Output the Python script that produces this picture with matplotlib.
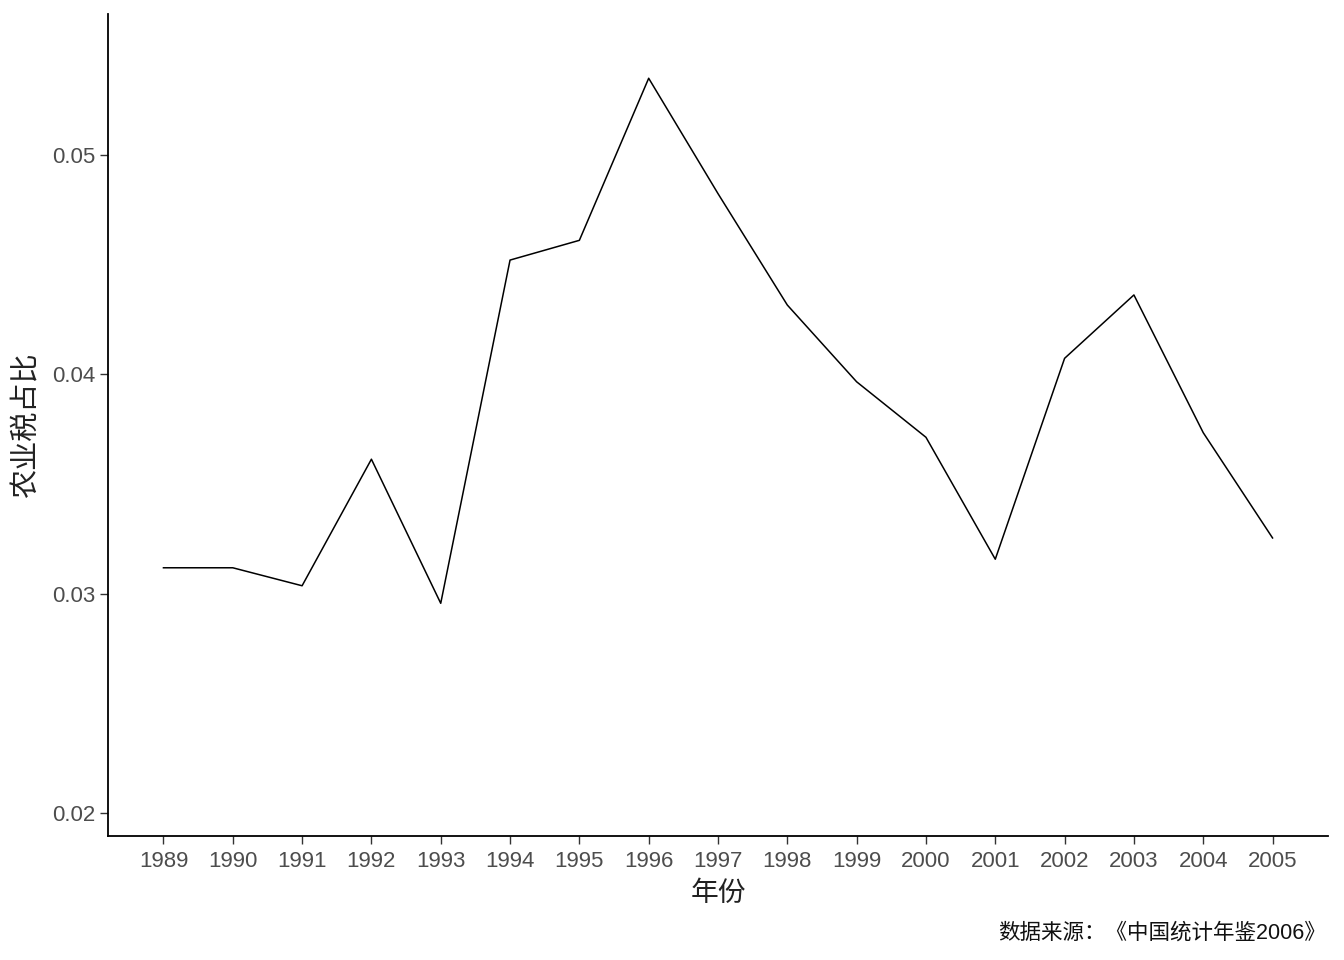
import matplotlib.pyplot as plt

plt.rcParams['font.family'] = ['Liberation Sans', 'Noto Sans CJK SC', 'DejaVu Sans']

years = list(range(1989, 2006))
tax_share = [0.03118, 0.03118, 0.03036, 0.03613, 0.02956, 0.04521, 0.04611,
             0.05350, 0.04824, 0.04316, 0.03966, 0.03713, 0.03157, 0.04073,
             0.04362, 0.03734, 0.03254]
y_ticks = [0.02, 0.03, 0.04, 0.05]
tick_labels = ["0.02", "0.03", "0.04", "0.05"]

fig = plt.figure(figsize=(13.44, 9.6), dpi=100)
ax = fig.add_axes([108 / 1344, 1 - 836 / 960, 1220 / 1344, 822 / 960])

ax.plot(years, tax_share, color="black", lw=1.1)

ax.set_xlim(1988.2, 2005.8)
ax.set_ylim(0.01895, 0.05643)
ax.set_xticks(years)
ax.set_xticklabels([str(y) for y in years])
ax.set_yticks(y_ticks)
ax.set_yticklabels(tick_labels)

for side in ["top", "right"]:
    ax.spines[side].set_visible(False)
for side in ["left", "bottom"]:
    ax.spines[side].set_linewidth(1.3)
ax.tick_params(axis="both", length=6, width=1.0, color="#333333",
               labelcolor="#4D4D4D", labelsize=16)
ax.tick_params(axis="x", pad=5)
ax.tick_params(axis="y", pad=3)

cjk = ['Noto Sans CJK SC', 'DejaVu Sans']
ax.set_xlabel("年份", fontsize=20, family=cjk, color="#222222", labelpad=4)
ax.set_ylabel("农业税占比", fontsize=21, family=cjk, color="#222222", labelpad=8)

fig.text(1326 / 1344, 1 - 933 / 960, "数据来源：《中国统计年鉴2006》", ha="right", va="center",
         fontsize=15.5, family=['Liberation Sans', 'Noto Sans CJK SC'], color="#111111")

fig.savefig("out.png", dpi=100)
